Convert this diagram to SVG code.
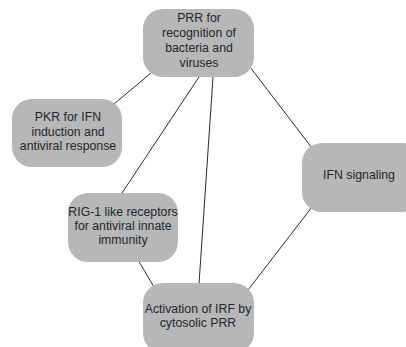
<svg xmlns="http://www.w3.org/2000/svg" width="406" height="347" viewBox="0 0 406 347">
<style>
.n{fill:#b6b7b9}
.t{font-family:"Liberation Sans",Arial,sans-serif;font-size:12.3px;fill:#262626;text-anchor:middle}
.c line{stroke:#2a2a2a;stroke-width:1}
</style>
<rect width="406" height="347" fill="#ffffff"/>
<g class="c" id="connectors">
<line x1="151" y1="73" x2="114" y2="104"/>
<line x1="199" y1="77" x2="122" y2="193"/>
<line x1="213" y1="77" x2="199" y2="284"/>
<line x1="250" y1="67" x2="312" y2="148"/>
<line x1="138" y1="260" x2="154" y2="287"/>
<line x1="312" y1="207" x2="248" y2="290"/>
</g>
<g id="n1"><rect class="n" x="143" y="9" width="111" height="68" rx="20"/>
<text class="t" x="199" y="22">PRR for</text><text class="t" x="199" y="37">recognition of</text><text class="t" x="199" y="52">bacteria and</text><text class="t" x="199" y="67">viruses</text></g>
<g id="n2"><rect class="n" x="12" y="99" width="110" height="68" rx="20"/>
<text class="t" x="68" y="121">PKR for IFN</text><text class="t" x="68" y="135.5">induction and</text><text class="t" x="68" y="150">antiviral response</text></g>
<g id="n3"><rect class="n" x="302" y="143" width="120" height="69" rx="20"/>
<text class="t" x="359" y="179">IFN signaling</text></g>
<g id="n4"><rect class="n" x="68" y="193" width="110" height="69" rx="20"/>
<text class="t" x="123" y="216">RIG-1 like receptors</text><text class="t" x="123" y="230">for antiviral innate</text><text class="t" x="123" y="244">immunity</text></g>
<g id="n5"><rect class="n" x="143" y="283" width="111" height="70" rx="20"/>
<text class="t" x="198" y="313">Activation of IRF by</text><text class="t" x="198" y="327">cytosolic PRR</text></g>
</svg>
